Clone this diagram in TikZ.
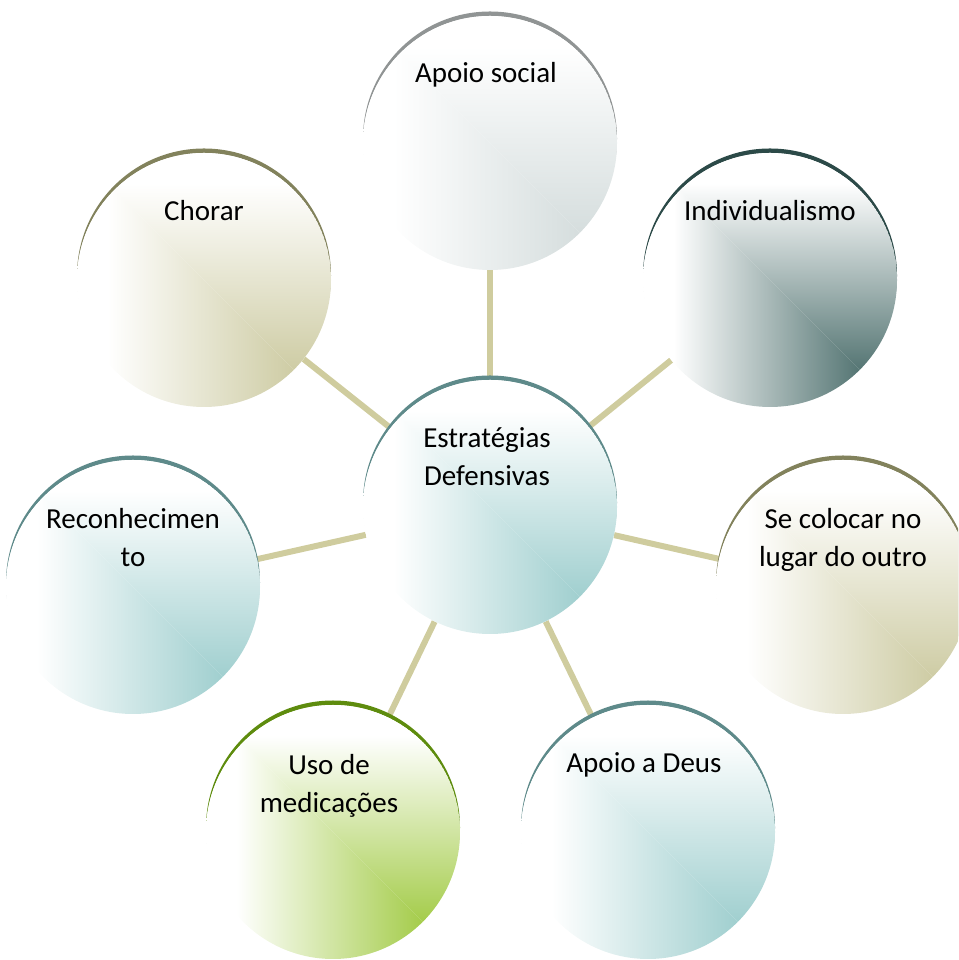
\documentclass[tikz,border=0pt]{standalone}
\usepackage{fontspec}
\setmainfont{Carlito}
\definecolor{linkc}{HTML}{CFCC9E}
\definecolor{tealf}{HTML}{A2D0D0}
\definecolor{teala}{HTML}{5E8A8A}
\definecolor{grayf}{HTML}{D6DEDE}
\definecolor{graya}{HTML}{909494}
\definecolor{slatef}{HTML}{587876}
\definecolor{slatea}{HTML}{2C4A48}
\definecolor{khakif}{HTML}{CFCDA6}
\definecolor{khakia}{HTML}{82825C}
\definecolor{greenf}{HTML}{A6CD4E}
\definecolor{greena}{HTML}{5E8C0E}
\newcommand\mkshades[2]{%
  \pgfdeclarehorizontalshading{#1h}{100bp}{color(0bp)=(white); color(31bp)=(white); color(67bp)=(#2); color(100bp)=(#2)}%
  \pgfdeclareverticalshading{#1v}{100bp}{color(0bp)=(#2); color(33bp)=(#2); color(69bp)=(white); color(100bp)=(white)}%
}
\mkshades{teal}{tealf}
\mkshades{gray}{grayf}
\mkshades{slate}{slatef}
\mkshades{khaki}{khakif}
\mkshades{green}{greenf}
\newcommand\bubble[3]{%
  \fill[#3] ([yshift=4.5pt]#1.center) circle (127pt);
  \begin{scope}
    \clip (#1.center) circle (127pt);
    \fill[white] (#1.center) circle (127pt);
    \begin{scope}
      \clip ([shift={(-128pt,128pt)}]#1.center) -- ([shift={(128pt,-128pt)}]#1.center) -- ([shift={(-128pt,-128pt)}]#1.center) -- cycle;
      \shade[shading=#2h] (#1.center) circle (127pt);
    \end{scope}
    \begin{scope}
      \clip ([shift={(-128pt,128pt)}]#1.center) -- ([shift={(128pt,-128pt)}]#1.center) -- ([shift={(128pt,128pt)}]#1.center) -- cycle;
      \shade[shading=#2v] (#1.center) circle (127pt);
    \end{scope}
  \end{scope}
}
\tikzset{
  bub/.style={circle, minimum size=254pt, inner sep=0pt},
  conn/.style={line width=6pt, draw=linkc},
  lbl/.style={inner sep=0pt, anchor=base, font=\fontsize{29}{38}\selectfont},
}
\begin{document}
\begin{tikzpicture}[x=1pt,y=1pt]
\useasboundingbox (0,0) rectangle (958,960);
\clip (0,0) rectangle (958,960);
\node[bub] (c0) at (490,453) {};
\node[bub] (c1) at (490,817) {};
\node[bub] (c2) at (770,680) {};
\node[bub] (c3) at (843,373) {};
\node[bub] (c4) at (648,128) {};
\node[bub] (c5) at (333,128) {};
\node[bub] (c6) at (133,373) {};
\node[bub] (c7) at (204,680) {};
\foreach \k in {1,...,7} {\draw[conn] (c0) -- (c\k);}
\bubble{c1}{gray}{graya}
\bubble{c2}{slate}{slatea}
\bubble{c3}{khaki}{khakia}
\bubble{c4}{teal}{teala}
\bubble{c5}{green}{greena}
\bubble{c6}{teal}{teala}
\bubble{c7}{khaki}{khakia}
\bubble{c0}{teal}{teala}
\node[lbl] (t0) at ([xshift=-3pt,yshift=59pt]c0.center) {\begin{tabular}[t]{@{}c@{}}Estratégias\\Defensivas\end{tabular}};
\node[lbl] (t1) at ([xshift=-4pt,yshift=60pt]c1.center) {Apoio social};
\node[lbl] (t2) at ([yshift=59pt]c2.center) {Individualismo};
\node[lbl] (t3) at ([yshift=58pt]c3.center) {\begin{tabular}[t]{@{}c@{}}Se colocar no\\lugar do outro\end{tabular}};
\node[lbl] (t4) at ([xshift=-4pt,yshift=59pt]c4.center) {Apoio a Deus};
\node[lbl] (t5) at ([xshift=-4pt,yshift=57pt]c5.center) {\begin{tabular}[t]{@{}c@{}}Uso de\\medicações\end{tabular}};
\node[lbl] (t6) at ([yshift=58pt]c6.center) {\begin{tabular}[t]{@{}c@{}}Reconhecimen\\to\end{tabular}};
\node[lbl] (t7) at ([yshift=59pt]c7.center) {Chorar};
\end{tikzpicture}
\end{document}
